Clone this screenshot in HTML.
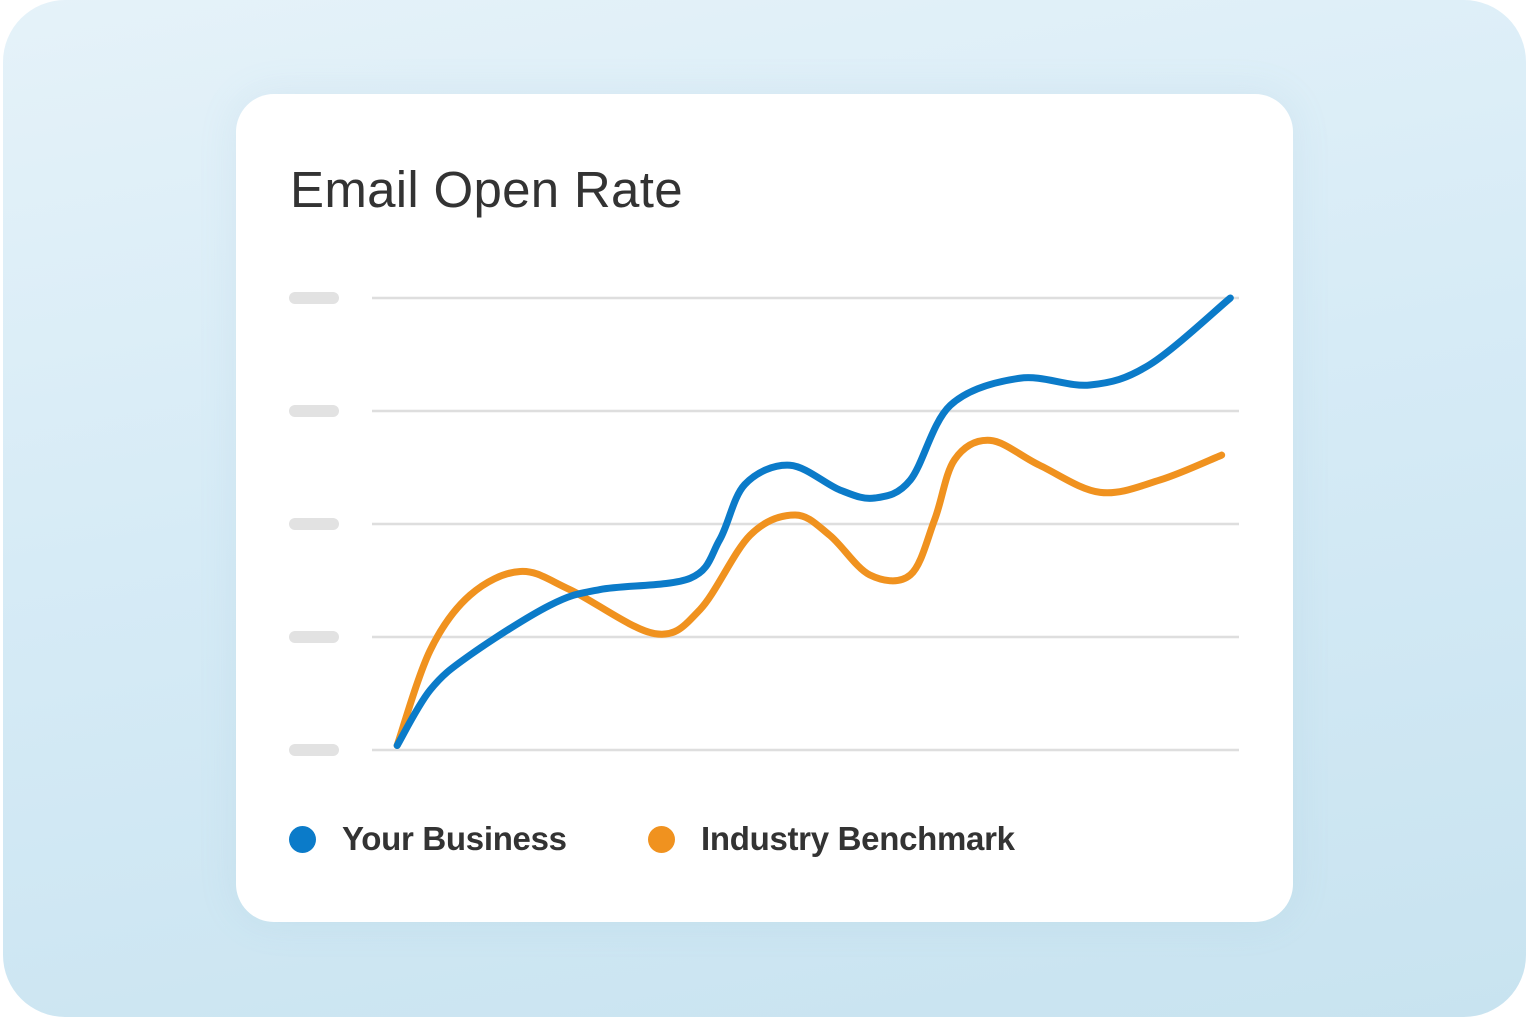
<!DOCTYPE html>
<html><head><meta charset="utf-8">
<style>
html,body{margin:0;padding:0;width:1526px;height:1017px;overflow:hidden;background:#fff;font-family:"Liberation Sans",sans-serif;}
#bg{position:absolute;left:3px;top:0;width:1523px;height:1017px;border-radius:62px;background:linear-gradient(170deg,#e5f2f9 0%,#d6ebf6 45%,#c8e3f0 100%);}
#card{position:absolute;left:236px;top:94px;width:1057px;height:828px;border-radius:38px;background:#fff;box-shadow:0 0 40px rgba(120,170,200,0.12);}
#title{position:absolute;left:290px;top:160px;font-size:51px;color:#333;letter-spacing:0.3px;}
.leg{position:absolute;font-size:33px;font-weight:bold;color:#333;top:820px;letter-spacing:-0.3px;}
.dot{position:absolute;width:27px;height:27px;border-radius:50%;top:826px;}
svg{position:absolute;left:0;top:0;}
</style></head><body>
<div id="bg"></div>
<div id="card"></div>
<div id="title">Email Open Rate</div>
<svg id="chart" width="1526" height="1017"></svg>
<div class="dot" style="left:289px;background:#0b7bc9"></div>
<div class="leg" style="left:342px">Your Business</div>
<div class="dot" style="left:648px;background:#f0921f"></div>
<div class="leg" style="left:701px">Industry Benchmark</div>
<script>
const gridLevels=[0,1,2,3,4];
const blueX=[2.9,6.7,11.3,20.5,26.3,36.7,40.1,43.0,48.2,54.0,58.0,62.1,66.7,74.7,82.8,89.7,99.0];
const blueY=[0.04,0.53,0.84,1.28,1.42,1.52,1.86,2.35,2.52,2.30,2.23,2.39,3.05,3.29,3.23,3.41,4.0];
const orangeX=[2.9,6.7,11.3,17.1,22.8,32.6,37.8,43.6,48.8,52.8,57.4,62.1,64.9,67.2,71.3,77.0,84.0,90.9,98.0];
const orangeY=[0.04,0.88,1.37,1.58,1.42,1.03,1.24,1.90,2.08,1.90,1.55,1.55,2.04,2.57,2.74,2.52,2.28,2.39,2.61];
const svg=document.getElementById('chart');
const NS='http://www.w3.org/2000/svg';
const X0=372,X1=1239,Y0=750,Y1=298;
function sx(v){return X0+(X1-X0)*v/100;}
function sy(v){return Y0-(Y0-Y1)*v/4;}
gridLevels.forEach(g=>{
  const l=document.createElementNS(NS,'line');
  l.setAttribute('x1',X0);l.setAttribute('x2',X1);l.setAttribute('y1',sy(g));l.setAttribute('y2',sy(g));
  l.setAttribute('stroke','#dedede');l.setAttribute('stroke-width','2.5');
  
  
  svg.appendChild(l);
  const t=document.createElementNS(NS,'line');
  t.setAttribute('x1',295);t.setAttribute('x2',333);t.setAttribute('y1',sy(g));t.setAttribute('y2',sy(g));
  t.setAttribute('stroke','#e2e2e2');t.setAttribute('stroke-width','12');t.setAttribute('stroke-linecap','round');
  
  
  svg.appendChild(t);
});
function path(xs,ys){
  const p=xs.map((x,i)=>[sx(x),sy(ys[i])]);
  let d='M'+p[0][0]+','+p[0][1];
  for(let i=0;i<p.length-1;i++){
    const a=p[i-1]||p[i],b=p[i],c=p[i+1],e=p[i+2]||c;
    const k=1/6;
    d+=' C'+(b[0]+(c[0]-a[0])*k)+','+(b[1]+(c[1]-a[1])*k)+' '+(c[0]-(e[0]-b[0])*k)+','+(c[1]-(e[1]-b[1])*k)+' '+c[0]+','+c[1];
  }
  return d;
}
function draw(xs,ys,color,name){
  const pa=document.createElementNS(NS,'path');
  pa.setAttribute('d',path(xs,ys));pa.setAttribute('fill','none');pa.setAttribute('stroke',color);
  pa.setAttribute('stroke-width','7');pa.setAttribute('stroke-linecap','round');pa.setAttribute('stroke-linejoin','round');
  
  
  svg.appendChild(pa);
}
draw(orangeX,orangeY,'#f0921f','industry-benchmark-line');
draw(blueX,blueY,'#0b7bc9','your-business-line');
</script>
</body></html>
